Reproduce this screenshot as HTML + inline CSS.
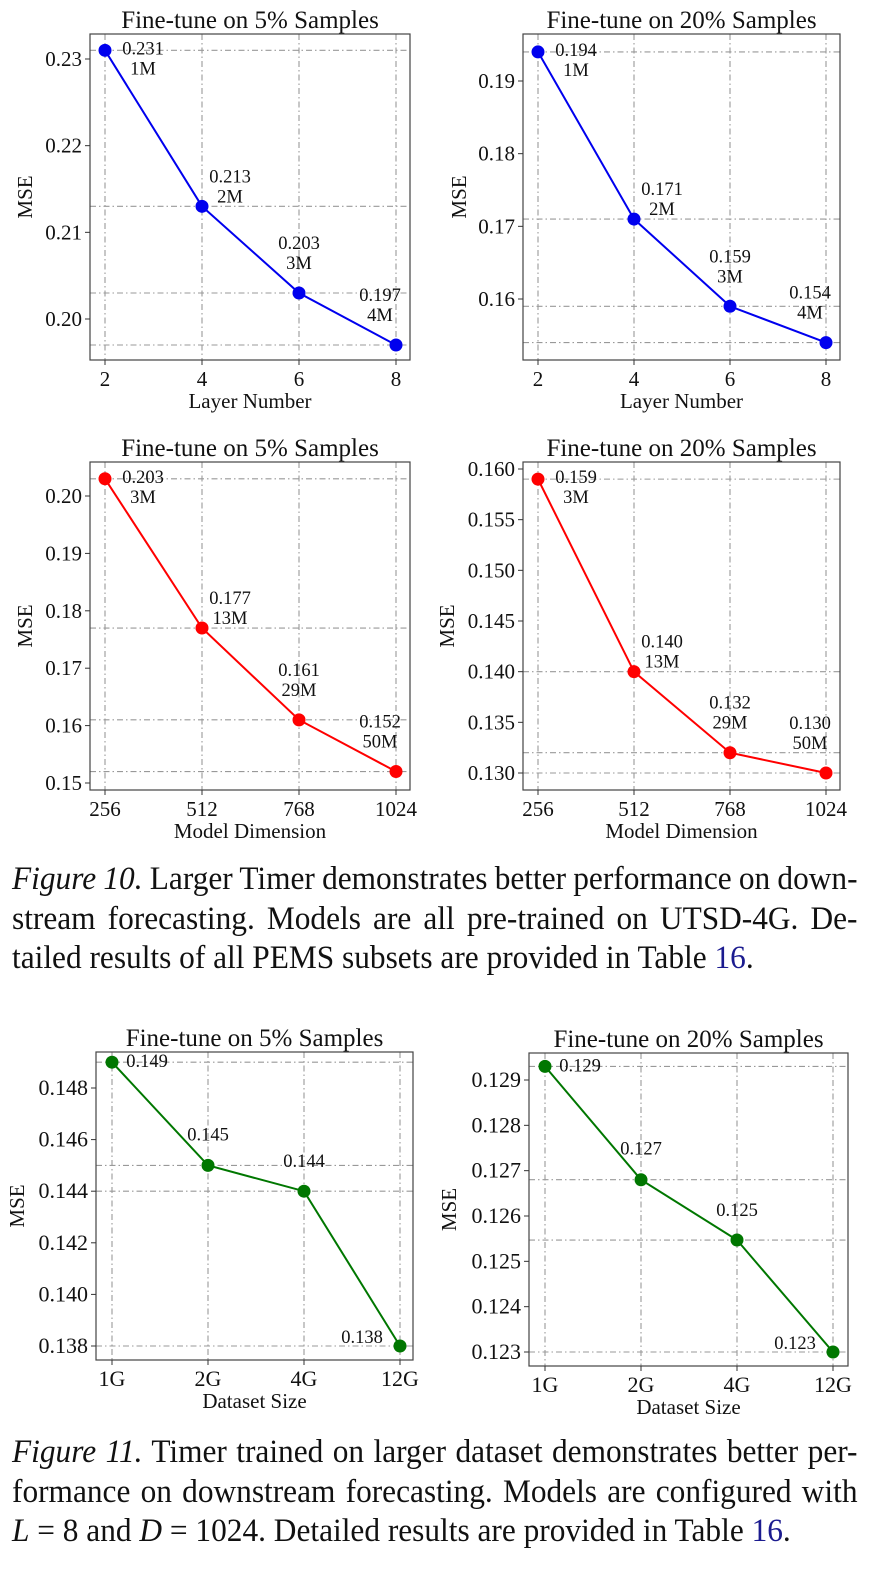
<!DOCTYPE html>
<html><head><meta charset="utf-8">
<style>
body{margin:0;background:#fff;width:892px;height:1575px;position:relative;overflow:hidden;font-family:"Liberation Serif",serif;}
svg{position:absolute;left:0;top:0}
.cap{position:absolute;left:12px;width:890px;font-size:33px;line-height:39.5px;color:#111;transform:scaleX(0.95);transform-origin:0 0;}
.cap div{text-align:justify;text-align-last:justify;white-space:nowrap;word-spacing:-2px;}
.cap div.last{text-align-last:left;word-spacing:0}
.ref{color:#1b1b8f}
</style></head>
<body>
<svg id="fig" width="892" height="1575"></svg>
<div class="cap" style="top:860px">
<div><i>Figure 10.</i> Larger Timer demonstrates better performance on down-</div>
<div>stream forecasting. Models are all pre-trained on UTSD-4G. De-</div>
<div class="last">tailed results of all PEMS subsets are provided in Table <span class="ref">16</span>.</div>
</div>
<div class="cap" style="top:1433px">
<div><i>Figure 11.</i> Timer trained on larger dataset demonstrates better per-</div>
<div>formance on downstream forecasting. Models are configured with</div>
<div class="last"><i>L</i> = 8 and <i>D</i> = 1024. Detailed results are provided in Table <span class="ref">16</span>.</div>
</div>
<script>
// Chart data
const layerCats = ["2","4","6","8"];
const layerVals5 = [0.231,0.213,0.203,0.197];
const layerVals20 = [0.194,0.171,0.159,0.154];
const layerParams = ["1M","2M","3M","4M"];
const layerTicks5 = [0.20,0.21,0.22,0.23];
const layerTicks20 = [0.16,0.17,0.18,0.19];
const dimCats = ["256","512","768","1024"];
const dimVals5 = [0.203,0.177,0.161,0.152];
const dimVals20 = [0.159,0.140,0.132,0.130];
const dimParams = ["3M","13M","29M","50M"];
const dimTicks5 = [0.15,0.16,0.17,0.18,0.19,0.20];
const dimTicks20 = [0.130,0.135,0.140,0.145,0.150,0.155,0.160];
const dataCats = ["1G","2G","4G","12G"];
const dataVals5 = [0.149,0.145,0.144,0.138];
const dataVals20 = [0.1293,0.1268,0.12547,0.123];
const dataLabels5 = ["0.149","0.145","0.144","0.138"];
const dataLabels20 = ["0.129","0.127","0.125","0.123"];
const dataTicks5 = [0.138,0.140,0.142,0.144,0.146,0.148];
const dataTicks20 = [0.123,0.124,0.125,0.126,0.127,0.128,0.129];

const NS="http://www.w3.org/2000/svg";
const svg=document.getElementById('fig');
function mk(tag,attrs,parent){const e=document.createElementNS(NS,tag);for(const k in attrs)e.setAttribute(k,attrs[k]);(parent||svg).appendChild(e);return e;}

const twoLineOff=[[38,-2],[28,-30],[0,-50],[-16,-50]];
const oneLineOff=[[35,-1],[0,-31],[0,-30],[-38,-9]];

function chart(o){
  const g=mk('g',{});
  
  
  const n=o.cats.length;
  const fs=o.fs||21;
  const xs=i=>o.x0+(o.x1-o.x0)*i/(n-1);
  const ys=v=>o.yA+(v-o.vA)*(o.yB-o.yA)/(o.vB-o.vA);
  const t=mk('text',{x:(o.L+o.R)/2,y:o.T-6,'text-anchor':'middle','font-size':25,fill:'#111'},g);
  t.textContent=o.title;
  
  
  o.cats.forEach((c,i)=>{
    const l=mk('line',{x1:xs(i),x2:xs(i),y1:o.T,y2:o.B,stroke:'#999','stroke-width':1.1,'stroke-dasharray':'6,3,1.5,3'},g);
    
    
  });
  o.vals.forEach(v=>{
    const l=mk('line',{x1:o.L,x2:o.R,y1:ys(v),y2:ys(v),stroke:'#999','stroke-width':1.1,'stroke-dasharray':'6,3,1.5,3'},g);
    
    
  });
  const f=mk('rect',{x:o.L,y:o.T,width:o.R-o.L,height:o.B-o.T,fill:'none',stroke:'#444','stroke-width':1.2},g);
  
  
  o.cats.forEach((c,i)=>{
    mk('line',{x1:xs(i),x2:xs(i),y1:o.B,y2:o.B+5,stroke:'#333'},g);
    const tx=mk('text',{x:xs(i),y:o.B+26,'text-anchor':'middle','font-size':fs,fill:'#111'},g);
    tx.textContent=c;
    
    
  });
  o.ticks.forEach(v=>{
    mk('line',{x1:o.L-5,x2:o.L,y1:ys(v),y2:ys(v),stroke:'#333'},g);
    const ty=mk('text',{x:o.L-8,y:ys(v)+7,'text-anchor':'end','font-size':fs,fill:'#111'},g);
    ty.textContent=v.toFixed(o.dec);
    
    
  });
  const xl=mk('text',{x:(o.L+o.R)/2,y:o.B+48,'text-anchor':'middle','font-size':21,fill:'#111'},g);
  xl.textContent=o.xlabel;
  
  
  const cy=(o.T+o.B)/2;
  const yl=mk('text',{x:o.ylx,y:cy,'text-anchor':'middle','font-size':21,fill:'#111',transform:`rotate(-90 ${o.ylx} ${cy})`},g);
  yl.textContent='MSE';
  
  
  const pts=o.vals.map((v,i)=>xs(i)+','+ys(v)).join(' ');
  const pl=mk('polyline',{points:pts,fill:'none',stroke:o.color,'stroke-width':2},g);
  
  
  o.vals.forEach((v,i)=>{
    const c=mk('circle',{cx:xs(i),cy:ys(v),r:6.5,fill:o.color},g);
    
    
    if(o.params){
      const off=twoLineOff[i];
      const a=mk('text',{x:xs(i)+off[0],y:ys(v)+off[1]+6,'text-anchor':'middle','font-size':18.5,fill:'#111'},g);
      a.textContent=v.toFixed(3);
      
      
      const b=mk('text',{x:xs(i)+off[0],y:ys(v)+off[1]+26,'text-anchor':'middle','font-size':18.5,fill:'#111'},g);
      b.textContent=o.params[i];
      
      
    } else {
      const off=oneLineOff[i];
      const a=mk('text',{x:xs(i)+off[0],y:ys(v)+off[1]+6,'text-anchor':'middle','font-size':18.5,fill:'#111'},g);
      a.textContent=o.labels[i];
      
      
    }
  });
}

chart({name:'layer-5pct-chart',title:'Fine-tune on 5% Samples',cats:layerCats,vals:layerVals5,params:layerParams,ticks:layerTicks5,dec:2,
  L:90,R:410,T:34,B:360,x0:105,x1:396,vA:0.23,yA:59,vB:0.20,yB:319,xlabel:'Layer Number',color:'#0000ee',ylx:32});
chart({name:'layer-20pct-chart',title:'Fine-tune on 20% Samples',cats:layerCats,vals:layerVals20,params:layerParams,ticks:layerTicks20,dec:2,
  L:523,R:840,T:34,B:360,x0:538,x1:826,vA:0.19,yA:81,vB:0.16,yB:299,xlabel:'Layer Number',color:'#0000ee',ylx:466});
chart({name:'dim-5pct-chart',title:'Fine-tune on 5% Samples',cats:dimCats,vals:dimVals5,params:dimParams,ticks:dimTicks5,dec:2,
  L:90,R:410,T:462,B:790,x0:105,x1:396,vA:0.20,yA:496,vB:0.15,yB:783,xlabel:'Model Dimension',color:'#ff0000',ylx:32});
chart({name:'dim-20pct-chart',title:'Fine-tune on 20% Samples',cats:dimCats,vals:dimVals20,params:dimParams,ticks:dimTicks20,dec:3,
  L:523,R:840,T:462,B:790,x0:538,x1:826,vA:0.16,yA:469,vB:0.13,yB:773,xlabel:'Model Dimension',color:'#ff0000',ylx:454});
chart({name:'data-5pct-chart',title:'Fine-tune on 5% Samples',cats:dataCats,vals:dataVals5,labels:dataLabels5,ticks:dataTicks5,dec:3,fs:22,
  L:96,R:413,T:1052,B:1360,x0:112,x1:400,vA:0.148,yA:1088,vB:0.138,yB:1346,xlabel:'Dataset Size',color:'#007700',ylx:24});
chart({name:'data-20pct-chart',title:'Fine-tune on 20% Samples',cats:dataCats,vals:dataVals20,labels:dataLabels20,ticks:dataTicks20,dec:3,fs:22,
  L:529,R:848,T:1053,B:1366,x0:545,x1:833,vA:0.129,yA:1080,vB:0.123,yB:1352,xlabel:'Dataset Size',color:'#007700',ylx:456});
</script>
</body></html>
